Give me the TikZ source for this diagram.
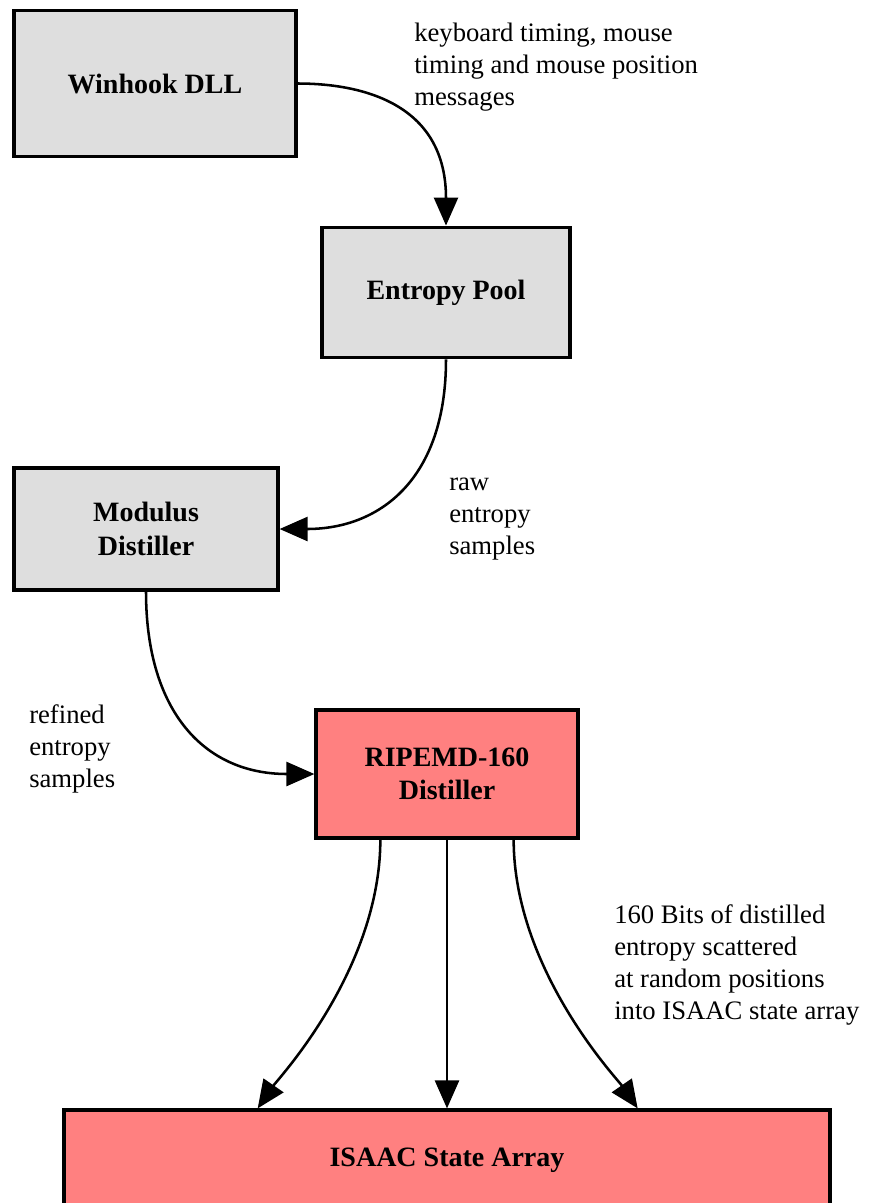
\documentclass[tikz,border=0pt]{standalone}
\usepackage{fontspec}
\setmainfont{Liberation Serif}
\usetikzlibrary{arrows.meta}
\definecolor{boxgrey}{HTML}{DEDEDE}
\definecolor{boxred}{HTML}{FF8080}
\begin{document}
\begin{tikzpicture}[x=0.75pt, y=-0.75pt, >={Triangle[length=21pt,width=18pt]}]
  \tikzstyle{stepbox} = [rectangle, draw, line width=2.4pt, align=center, font=\bfseries\fontsize{21}{25}\selectfont]
  \tikzstyle{greybox} = [stepbox, fill=boxgrey]
  \tikzstyle{redbox} = [stepbox, fill=boxred]
  \tikzstyle{note} = [anchor=north west, inner sep=0pt, align=left, font=\fontsize{20}{24}\selectfont]
  \tikzstyle{flow} = [->, line width=1.9pt]

  \useasboundingbox (0,0) rectangle (874,1203);
  \clip (0,0) rectangle (874,1203);

  \node[greybox, minimum width=211.5pt, minimum height=110pt] (win) at (155,83.5) {Winhook DLL};
  \node[greybox, minimum width=186pt, minimum height=98pt] (pool) at (446,292.5) {Entropy Pool};
  \node[greybox, minimum width=198pt, minimum height=91.5pt] (mod) at (146,529) {Modulus\\Distiller};
  \node[redbox, minimum width=196.5pt, minimum height=96pt] (ripe) at (447,774) {RIPEMD-160\\Distiller};
  \node[redbox, minimum width=574.5pt, minimum height=75pt] (isaac) at (447,1160) {ISAAC State Array};

  \node[note] (keys) at (414,19) {\strut keyboard timing, mouse\\timing and mouse position\\messages};
  \node[note] (raw) at (449,468) {\strut raw\\entropy\\samples};
  \node[note] (refined) at (29,701) {\strut refined\\entropy\\samples};
  \node[note] (bits) at (614,901) {\strut 160 Bits of distilled\\entropy scattered\\at random positions\\into ISAAC state array};

  \draw[flow] (win.east) .. controls +(50,0) and +(0,-130) .. (pool.north);
  \draw[flow] (pool.south) .. controls +(0,120) and +(100,0) .. (mod.east);
  \draw[flow] (mod.south) .. controls +(0,120) and +(-110,0) .. (ripe.west);
  \draw[flow] ([xshift=-50pt]ripe.south) .. controls +(0,130) and +(20,-29) .. ([xshift=-142pt]isaac.north);
  \draw[flow] (ripe.south) -- (isaac.north);
  \draw[flow] ([xshift=50pt]ripe.south) .. controls +(0,130) and +(-20,-29) .. ([xshift=143pt]isaac.north);
\end{tikzpicture}
\end{document}
